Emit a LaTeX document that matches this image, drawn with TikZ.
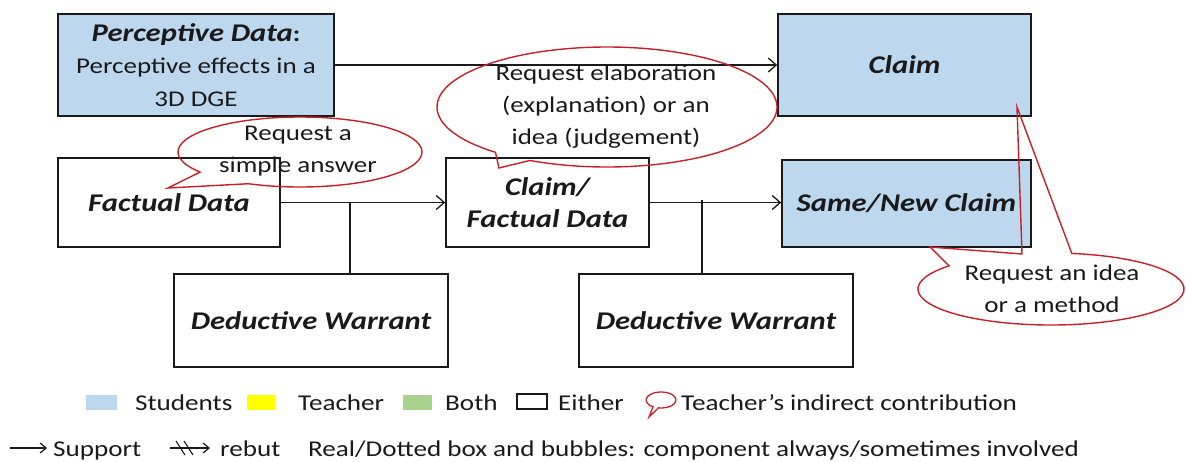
\documentclass[tikz,border=0pt]{standalone}
\usepackage{fontspec}
\setmainfont{Carlito}[FakeStretch=1.2]
\usetikzlibrary{arrows.meta,calc}
\definecolor{stud}{HTML}{BDD7EE}
\definecolor{teach}{HTML}{FFFF00}
\definecolor{both}{HTML}{A9D18E}
\definecolor{bub}{HTML}{C8202A}
\definecolor{ink}{HTML}{1A1A1A}
\newcommand\boxlabelfont{\fontsize{25.5}{34}\selectfont\bfseries\itshape}
\tikzset{
  box/.style={draw=ink, line width=1.6pt, inner sep=0pt, align=center, text=ink,
    font=\fontsize{22.5}{32.5}\selectfont},
  sbox/.style={box, fill=stud},
  conn/.style={line width=1.3pt, draw=ink},
  supportarrow/.style={conn, -{Straight Barb[length=8pt,width=14pt,line width=1.3pt]}},
  smallarrow/.style={conn, -{Straight Barb[length=6pt,width=10pt,line width=1.2pt]}},
  bubble/.style={draw=bub, line width=1.4pt, line join=miter},
  btext/.style={inner sep=0pt, align=center, text=ink, font=\fontsize{22.5}{32}\selectfont},
  legtext/.style={inner sep=0pt, anchor=base west, text=ink, font=\fontsize{22.6}{26}\selectfont}
}
\begin{document}
\begin{tikzpicture}[x=1pt,y=-1pt]
\useasboundingbox (0,0) rectangle (1186,461);

% boxes
\node[sbox, minimum width=276pt, minimum height=102pt] (pd) at (196,65)
  {{\boxlabelfont Perceptive Data}\textbf{:}\\Perceptive effects in a\\3D DGE};
\node[sbox, minimum width=253pt, minimum height=102pt] (claim) at (904.5,65)
  {\boxlabelfont Claim};
\node[box, minimum width=222pt, minimum height=89pt] (fd) at (169,202.5)
  {\boxlabelfont Factual Data};
\node[box, minimum width=203pt, minimum height=89pt] (cfd) at (547.5,202.5)
  {\boxlabelfont Claim/\\\boxlabelfont Factual Data};
\node[sbox, minimum width=249pt, minimum height=87pt] (snc) at (906.5,203.5)
  {\boxlabelfont Same/New Claim};
\node[box, minimum width=274pt, minimum height=93pt] (dw1) at (311,320.5)
  {\boxlabelfont Deductive Warrant};
\node[box, minimum width=274pt, minimum height=93pt] (dw2) at (716,320.5)
  {\boxlabelfont Deductive Warrant};

% connectors
\draw[supportarrow] (pd.east) -- (claim.west);
\draw[supportarrow] (fd.east) -- (cfd.west);
\draw[supportarrow] (cfd.east) -- (cfd.east -| snc.west);
\coordinate (j1) at (350,202.5);
\coordinate (j2) at (702,200);
\draw[conn] (j1) -- (j1 |- dw1.north);
\draw[conn] (j2) -- (j2 |- dw2.north);

% bubbles
\node[btext] (b1) at (298,151) {Request a\\simple answer};
\draw[bubble] ($(300,152)+(145:122 and 35)$)
  arc[start angle=145, end angle=475, x radius=122, y radius=35]
  -- (168,188) -- cycle;

\node[btext] (b2) at (606,107) {Request elaboration\\(explanation) or an\\idea (judgement)};
\draw[bubble] ($(607,107)+(131:170 and 60)$)
  arc[start angle=131, end angle=477, x radius=170, y radius=60]
  -- (499,168) -- cycle;

\node[btext] (b3) at (1052,289) {Request an idea\\or a method};
\draw[bubble] ($(1051,289)+(279:133 and 36)$)
  arc[start angle=279, end angle=580, x radius=133, y radius=36]
  -- (930,247) -- (1022,254) -- (1017,107) -- cycle;

% legend row 1
\fill[stud] (86,395) rectangle (117,410);
\node[legtext] (lstud) at (135,410) {Students};
\fill[teach] (247,395) rectangle (275,410);
\node[legtext] (lteach) at (298,410) {Teacher};
\fill[both] (403,395) rectangle (432,410);
\node[legtext] (lboth) at (445,410) {Both};
\draw[ink, line width=1.3pt] (517,394) rectangle (547,409);
\node[legtext] (leither) at (558,410) {Either};
\draw[bubble, line width=1.3pt] ($(661,400)+(122:15 and 8)$)
  arc[start angle=122, end angle=460, x radius=15, y radius=8]
  -- (649,417) -- cycle;
\node[legtext] (lind) at (681,410) {Teacher’s indirect contribution};

% legend row 2
\coordinate (sa) at (10,448);
\coordinate (sb) at (47,448);
\draw[smallarrow] (sa) -- (sb);
\node[legtext] (lsup) at (53,456) {Support};
\coordinate (ra) at (170,448);
\coordinate (rb) at (210,448);
\draw[smallarrow] (ra) -- (rb);
\draw[conn, line width=1.1pt] (176,441) -- (185,455);
\draw[conn, line width=1.1pt] (184,441) -- (193,455);
\node[legtext] (lreb) at (220,456) {rebut};
\node[legtext] (lreal) at (308,456) {Real/Dotted box and bubbles: component always/sometimes involved};
\end{tikzpicture}
\end{document}
